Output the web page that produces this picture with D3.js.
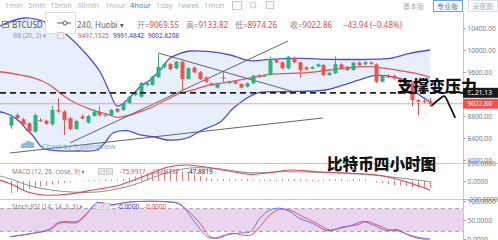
<!DOCTYPE html>
<html>
<head>
<meta charset="utf-8">
<script src="https://cdn.jsdelivr.net/npm/d3@7"></script>
<style>
body{margin:0;background:#fff;}
svg{display:block;font-family:"Noto Sans","Noto Sans CJK SC","DejaVu Sans",sans-serif;}
</style>
</head>
<body>
<svg id="chart" width="498" height="240"></svg>
<script>
// ---- candles (BTC 4h, Huobi) ----
const opens  = [8624,8818,8740,8667,8515,8725,8712,8649,8909,8882,8760,8564,8790,8680,8800,8873,8822,8818,8927,8909,9036,9182,9151,9364,9364,9504,9690,9745,9667,9787,9473,9678,9595,9496,9395,9315,9500,9400,9424,9382,9333,9395,9533,9520,9545,9818,9776,9667,9860,9776,9685,9660,9700,9727,9545,9576,9740,9696,9636,9769,9740,9776,9740,9424,9533,9533,9480,9420,9395,9091,9070,9069.55];
const highs  = [8830,8850,8770,8690,8845,8760,8735,8985,9125,8905,8785,8735,8830,8820,8925,8985,8840,8930,8945,9050,9165,9260,9420,9410,9530,9927,9770,9765,9800,9800,9690,9700,9615,9520,9410,9410,9600,9440,9440,9400,9410,9550,9560,9550,9880,9840,9790,9890,9880,9790,9700,9710,9760,9745,9600,9880,9760,9710,9780,9790,9800,9790,9760,9545,9560,9550,9500,9440,9410,9110,9100,9133.82];
const lows   = [8570,8730,8620,8480,8500,8690,8640,8620,8860,8455,8540,8550,8740,8660,8790,8800,8790,8800,8860,8890,9020,9160,9130,9340,9350,9490,9660,9630,9650,9273,9460,9580,9455,9400,9350,9300,9420,9380,9370,9300,9320,9380,9500,9505,9530,9760,9650,9650,9760,9496,9630,9650,9690,9530,9530,9560,9650,9620,9620,9715,9720,9730,9400,9410,9490,9460,9400,9360,8982,8818,9030,8974.26];
const closes = [8787,8758,8640,8515,8818,8712,8660,8909,8882,8727,8564,8709,8755,8800,8878,8818,8805,8909,8878,9036,9151,9242,9400,9390,9515,9696,9745,9649,9787,9473,9667,9595,9473,9424,9364,9395,9480,9424,9390,9315,9395,9533,9520,9533,9836,9776,9667,9878,9776,9636,9649,9690,9740,9545,9587,9740,9667,9636,9769,9727,9776,9750,9424,9533,9500,9480,9420,9380,9091,9060,9050,9022.86];

// ---- Bollinger bands as [candle index, price] ----
const bbUpper = [[-1.9,10436],[2.4,10582],[6.6,10473],[9.5,10273],[12.9,9909],[15.1,9605],[16.8,9218],[18,8982],[19.7,9091],[21.9,9333],[23.6,9455],[25.3,9636],[27,9855],[28.7,9940],[30.4,9982],[33.8,9969],[37.2,9909],[40.6,9805],[43.9,9831],[49,9849],[54.1,9831],[60.9,9831],[64.3,9849],[67.7,9940],[71.1,10000]];
const bbMid = [[-1.9,9605],[3.7,9496],[6.6,9364],[8.3,9218],[10,9091],[11.7,9000],[13.4,8927],[15.1,8867],[16.8,8818],[18,8776],[20.2,8818],[21.9,8878],[23.6,8945],[25.3,9036],[27,9127],[28.7,9218],[30.4,9260],[32.1,9315],[33.8,9364],[35.5,9395],[37.2,9424],[38.9,9455],[41.1,9504],[43.9,9558],[47.3,9576],[50.7,9595],[54.1,9636],[57.5,9678],[60.9,9696],[62.6,9678],[66,9624],[69.4,9558],[71.1,9504]];
const bbLower = [[-1.9,8878],[-0.2,8818],[1.5,8696],[2.7,8545],[3.6,8455],[5.4,8218],[7.8,8169],[11.7,8164],[14.6,8182],[15.9,8309],[17.3,8491],[19.7,8533],[21.9,8455],[24.4,8418],[26.5,8364],[29.9,8400],[32.1,8527],[35.5,8691],[37.8,8950],[41.6,9213],[46.1,9242],[53.4,9273],[56.5,9364],[59.9,9485],[61.6,9533],[64.5,9515],[67.2,9424],[68.9,9213],[71.1,9060]];
const bbValues = ["9497.1525","9991.4842","9002.8208"];

// ---- drawn trend lines [[idx,price],[idx,price]] ----
const trendLines = [
  [[25,9945],[48.4,9227]],
  [[10,8309],[47,10164]],
  [[-0.2,8127],[52.9,8764]]
];
const resistance = 9221.13;
const lastPrice = 9022.86;
const handCurve = [[71.4,8990],[72.6,9100],[73.5,9160],[74.4,8990],[75.3,8780]];

// ---- MACD ----
const macdHist = [-133,-122,-111,-89,-78,-61,-50,-39,-28,-19,-14,-9,-6,-3,-2,2,3,3,4,22,33,50,67,89,100,117,128,133,128,111,89,72,56,39,28,17,11,8,6,5,10,12,14,15,14,12,10,8,6,5,3,0,0,2,5,8,10,12,10,8,5,-10,-17,-22,-33,-44,-50,-56,-67,-72,-78,-78];
const macdLine = [[-1.9,11],[0,-33],[2.7,-119],[5.4,-155],[9.5,-148],[13.9,-100],[18.5,-44],[23.1,67],[26.5,152],[29.9,178],[33.3,152],[37.7,103],[40.6,74],[43.9,92],[47.3,122],[51.9,103],[57.5,85],[62.1,67],[66,11],[71.1,-100]];
const signalLine = [[-1.9,56],[0,22],[3.7,-63],[9.5,-119],[15.1,-119],[20.7,-44],[25.3,67],[29.9,141],[34.3,141],[40.6,92],[46.1,103],[51.9,97],[57.5,85],[63.1,56],[71.1,-8]];

// ---- Stoch RSI ----
const stochK = [[-0.2,6],[3.7,15],[6.6,26],[7.8,42],[9.5,46],[11.2,46],[12.9,68],[14.6,96],[16.3,90],[18,92],[20.7,98],[26.5,98],[28.7,92],[30.9,50],[33.3,6],[34.3,2],[36.3,10],[38.9,16],[40.6,19],[42.2,54],[43.9,76],[45.6,81],[47.3,72],[49,54],[51.2,41],[53.6,22],[55.8,28],[58,37],[59.7,46],[61.4,37],[63.8,22],[65.5,25],[67.7,8],[69.9,0],[71.1,0]];
const stochD = [[-0.2,6],[3.7,15],[6.6,24],[8.3,42],[11.2,43],[12.2,55],[13.4,76],[14.6,94],[15.6,95],[17.3,89],[18.5,94],[20.7,98],[26.5,98],[28.2,94],[29.9,76],[32.1,41],[33.8,6],[35.5,3],[37.2,15],[40.6,10],[42.2,32],[43.9,63],[45.6,78],[47.3,76],[49.5,59],[51.9,41],[54.1,24],[56.3,32],[58.7,37],[60.4,46],[62.1,37],[64.3,24],[65.5,22],[67.7,10],[69.9,2],[71.1,0]];

// ---- axis ticks / labels ----
const priceTicks = [10400,10000,9600,9200,8800,8400,8000];
const macdTicks = [200,0,-200];
const stochTicks = [100,50,0];
const intervals = ["1min","5min","15min","30min","1hour","4hour","1day","1week","1mon"];
const intervalX = [5,28,50,77,105,130,156,177,204];

const W = 498, H = 240, axisX = 463;
const upColor = "#2db37f", downColor = "#ef5350";
const axisFont = 6.6, legendFont = 6.4;

const svg = d3.select("#chart");
svg.append("rect").attr("width",W).attr("height",H).attr("fill","#fff");

const x = d3.scaleLinear().domain([0,71]).range([11,429.5]);
const yP = d3.scaleLinear().domain([8000,10000]).range([160,50]);
const yM = d3.scaleLinear().domain([-200,200]).range([199,163]);
const yS = d3.scaleLinear().domain([0,100]).range([239,201]);

const defs = svg.append("defs");
defs.append("clipPath").attr("id","cp").append("rect").attr("x",0).attr("y",14).attr("width",axisX).attr("height",149);
defs.append("clipPath").attr("id","cm").append("rect").attr("x",0).attr("y",163).attr("width",axisX).attr("height",36);
defs.append("clipPath").attr("id","cs").append("rect").attr("x",0).attr("y",199).attr("width",axisX).attr("height",41);

const curve = d3.curveCatmullRom.alpha(0.5);

// ===== price pane =====
const pp = svg.append("g").attr("clip-path","url(#cp)");
const bbLine = d3.line().x(d => x(d[0])).y(d => yP(d[1])).curve(curve);

// band fill
const fillPath = bbLine(bbUpper) + bbLine(bbLower.slice().reverse()).replace(/^M/,"L") + "Z";
pp.append("path").attr("d",fillPath).attr("fill","#e6effb");

pp.append("path").attr("d",bbLine(bbUpper)).attr("fill","none").attr("stroke","#4b4fd8").attr("stroke-width",1.3);
pp.append("path").attr("d",bbLine(bbLower)).attr("fill","none").attr("stroke","#4b4fd8").attr("stroke-width",1.3);
pp.append("path").attr("d",bbLine(bbMid)).attr("fill","none").attr("stroke","#e2555a").attr("stroke-width",1.3);

// trend lines
pp.selectAll(".trend").data(trendLines).enter().append("line")
  .attr("x1",d => x(d[0][0])).attr("y1",d => yP(d[0][1]))
  .attr("x2",d => x(d[1][0])).attr("y2",d => yP(d[1][1]))
  .attr("stroke","#555").attr("stroke-width",0.9);

// current price line
pp.append("line").attr("x1",0).attr("x2",axisX)
  .attr("y1",yP(lastPrice)).attr("y2",yP(lastPrice))
  .attr("stroke","#f08a8a").attr("stroke-width",0.8);

// candles
const candles = opens.map((o,i) => ({i, o, h: highs[i], l: lows[i], c: closes[i]}));
const cg = pp.selectAll(".candle").data(candles).enter().append("g");
cg.append("line")
  .attr("x1",d => Math.round(x(d.i))+0.5).attr("x2",d => Math.round(x(d.i))+0.5)
  .attr("y1",d => yP(d.h)).attr("y2",d => yP(d.l))
  .attr("stroke",d => d.c >= d.o ? upColor : downColor).attr("stroke-width",1);
cg.append("rect")
  .attr("x",d => Math.round(x(d.i))-1.5).attr("width",4)
  .attr("y",d => yP(Math.max(d.o,d.c)))
  .attr("height",d => Math.max(1,Math.abs(yP(d.o)-yP(d.c))))
  .attr("fill",d => d.c >= d.o ? upColor : downColor);

// dashed resistance line
pp.append("line").attr("x1",0).attr("x2",axisX)
  .attr("y1",yP(resistance)).attr("y2",yP(resistance))
  .attr("stroke","#222").attr("stroke-width",1.6).attr("stroke-dasharray","6,4");

// watermark
const wm = svg.append("g");
wm.append("path").attr("d","M21 148 q-1 -5 4 -5 q2 -4 6 -1 q4 0 3 4 q2 2 -1 2 z").attr("fill","#8dbbe6");
wm.append("text").attr("x",42).attr("y",149).attr("font-size",7.4).attr("fill","#7fb0e0").text("Chart by TradingView");

// ===== separators =====
svg.append("line").attr("x1",0).attr("x2",W).attr("y1",163.5).attr("y2",163.5).attr("stroke","#c8c8c8");
svg.append("line").attr("x1",0).attr("x2",W).attr("y1",199.5).attr("y2",199.5).attr("stroke","#c8c8c8");

// ===== MACD pane =====
const mp = svg.append("g").attr("clip-path","url(#cm)");
mp.selectAll(".hist").data(macdHist).enter().append("line")
  .attr("x1",(d,i) => Math.round(x(i))+0.5).attr("x2",(d,i) => Math.round(x(i))+0.5)
  .attr("y1",yM(0)).attr("y2",d => yM(d) + (Math.abs(yM(d)-yM(0)) < 1 ? -1 : 0))
  .attr("stroke","#ef7a7d").attr("stroke-width",1);
const mLine = d3.line().x(d => x(d[0])).y(d => yM(d[1])).curve(curve);
mp.append("path").attr("d",mLine(signalLine)).attr("fill","none").attr("stroke","#8a9095").attr("stroke-width",1);
mp.append("path").attr("d",mLine(macdLine)).attr("fill","none").attr("stroke","#e2454f").attr("stroke-width",1.1);

// ===== Stoch RSI pane =====
const sp = svg.append("g").attr("clip-path","url(#cs)");
sp.append("rect").attr("x",0).attr("width",axisX).attr("y",yS(80)).attr("height",yS(20)-yS(80)).attr("fill","#ead5ee");
[80,20].forEach(v => sp.append("line").attr("x1",0).attr("x2",axisX).attr("y1",yS(v)).attr("y2",yS(v))
  .attr("stroke","#9b8aa0").attr("stroke-width",0.8).attr("stroke-dasharray","4,3"));
const sLine = d3.line().x(d => x(d[0])).y(d => yS(d[1])).curve(curve);
sp.append("path").attr("d",sLine(stochD)).attr("fill","none").attr("stroke","#e8566a").attr("stroke-width",1);
sp.append("path").attr("d",sLine(stochK)).attr("fill","none").attr("stroke","#6b6ff0").attr("stroke-width",1);

// ===== right axes =====
svg.append("line").attr("x1",axisX+0.5).attr("x2",axisX+0.5).attr("y1",12).attr("y2",H).attr("stroke","#c8c8c8");
function styleAxis(g){
  g.select(".domain").remove();
  g.selectAll("line").attr("stroke","#aaa");
  g.selectAll("text").attr("fill","#7a7e88").attr("font-size",axisFont).attr("x",4.5)
    .attr("font-family","'Noto Sans','DejaVu Sans',sans-serif");
}
svg.append("g").attr("transform",`translate(${axisX},0)`)
  .call(d3.axisRight(yP).tickValues(priceTicks).tickSize(3).tickFormat(d => d.toFixed(2))).call(styleAxis);
svg.append("g").attr("transform",`translate(${axisX},0)`)
  .call(d3.axisRight(yM).tickValues(macdTicks).tickSize(3).tickFormat(d => d.toFixed(4))).call(styleAxis);
svg.append("g").attr("transform",`translate(${axisX},0)`)
  .call(d3.axisRight(yS).tickValues(stochTicks).tickSize(3).tickFormat(d => d.toFixed(4))).call(styleAxis);

// price labels on axis
[[resistance,"#1a1a1a"],[lastPrice,"#ef5350"]].forEach(([v,col]) => {
  svg.append("rect").attr("x",axisX).attr("y",yP(v)-5).attr("width",W-axisX).attr("height",10).attr("fill",col);
  svg.append("text").attr("x",axisX+4.5).attr("y",yP(v)+2.5).attr("font-size",axisFont).attr("fill","#fff").text(v.toFixed(2));
});

// ===== toolbar =====
const tb = svg.append("g").attr("font-size",7.4);
tb.selectAll("text").data(intervals).enter().append("text")
  .attr("x",(d,i) => intervalX[i]).attr("y",8)
  .attr("fill",d => d === "4hour" ? "#3b7ddd" : "#b3b8c2").text(d => d);
tb.append("rect").attr("x",232.5).attr("y",1.5).attr("width",9).attr("height",8).attr("fill","none").attr("stroke","#c4c8d0");
tb.append("circle").attr("cx",253).attr("cy",5).attr("r",3).attr("fill","none").attr("stroke","#c4c8d0");
tb.append("rect").attr("x",266.5).attr("y",1.5).attr("width",7).attr("height",7).attr("fill","none").attr("stroke","#c4c8d0");
tb.append("rect").attr("x",433.5).attr("y",0.5).attr("width",29).attr("height",11).attr("fill","#fff").attr("stroke","#6fa0e6");
tb.append("rect").attr("x",468.5).attr("y",0.5).attr("width",29).attr("height",11).attr("fill","#fff").attr("stroke","#dde0e6");
[["基本版",403,"#a9b0bb"],["专业版",437,"#3b7ddd"],["深度图",472,"#a9b0bb"]].forEach(([t,px,col]) =>
  tb.append("text").attr("x",px).attr("y",8.5).attr("font-size",7)
    .attr("font-family","'Noto Sans CJK SC',sans-serif").attr("fill",col).text(t));

// ===== header =====
const hd = svg.append("g").attr("font-size",8);
hd.append("rect").attr("x",2.5).attr("y",21.5).attr("width",6).attr("height",6).attr("fill","none").attr("stroke","#888");
hd.append("line").attr("x1",4).attr("x2",7.5).attr("y1",24.5).attr("y2",24.5).attr("stroke","#888");
hd.append("text").attr("x",12).attr("y",28).attr("fill","#555").text("BTCUSD");
hd.append("text").attr("x",77).attr("y",28).attr("fill","#666").text("240, Huobi ▾");
const hdItems = [["开=","9069.55",137],["高=","9133.82",186],["低=","8974.26",235],["收=","9022.86",290]];
hdItems.forEach(([k,v,px]) => {
  const t = hd.append("text").attr("x",px).attr("y",28);
  t.append("tspan").attr("fill","#888").attr("font-family","'Noto Sans CJK SC',sans-serif").text(k);
  t.append("tspan").attr("fill","#e0504f").text(v);
});
hd.append("text").attr("x",343).attr("y",28).attr("fill","#e0504f").text("−43.94 (−0.48%)");

// tooltip box over symbol
hd.append("rect").attr("x",45.5).attr("y",12.5).attr("width",30).attr("height",21).attr("fill","#fff").attr("stroke","#ddd");
hd.append("line").attr("x1",57).attr("x2",71).attr("y1",23).attr("y2",23).attr("stroke","#666");
hd.append("circle").attr("cx",65).attr("cy",23).attr("r",2).attr("fill","#fff").attr("stroke","#666");

// BB legend row
const bl = svg.append("g").attr("font-size",legendFont);
bl.append("text").attr("x",13).attr("y",38).attr("fill","#999").text("BB (20, 2) ▾");
bl.append("rect").attr("x",57.5).attr("y",32.5).attr("width",6).attr("height",6).attr("fill","#eee").attr("stroke","#ccc");
[[bbValues[0],78,"#e0504f"],[bbValues[1],113,"#3434c8"],[bbValues[2],148,"#3434c8"]].forEach(([v,px,col]) =>
  bl.append("text").attr("x",px).attr("y",38).attr("fill",col).text(v));

// MACD legend
const ml = svg.append("g").attr("font-size",legendFont);
ml.append("text").attr("x",12).attr("y",174).attr("fill","#888").text("MACD (12, 26, close, 9) ▾");
[98.5,106.5].forEach(px => ml.append("rect").attr("x",px).attr("y",168.5).attr("width",6).attr("height",6).attr("fill","#e4e4e4").attr("stroke","#ccc"));
[["-75.9917",120,"#e0504f"],["-123.8737",150,"#e0504f"],["-47.8819",187,"#222"]].forEach(([v,px,col]) =>
  ml.append("text").attr("x",px).attr("y",174).attr("fill",col).text(v));

// Stoch legend
const sl = svg.append("g").attr("font-size",legendFont);
sl.append("text").attr("x",12).attr("y",209).attr("fill","#888").text("Stoch RSI (14, 14, 3, 3) ▾");
[95.5,103.5].forEach(px => sl.append("rect").attr("x",px).attr("y",203.5).attr("width",6).attr("height",6).attr("fill","#e4e4e4").attr("stroke","#ccc"));
[["-0.0000",117,"#3434c8"],["-0.0000",144,"#e0504f"]].forEach(([v,px,col]) =>
  sl.append("text").attr("x",px).attr("y",209).attr("fill",col).text(v));

// ===== annotations =====
svg.append("path")
  .attr("d",d3.line().x(d => x(d[0])).y(d => yP(d[1])).curve(curve)(handCurve))
  .attr("fill","none").attr("stroke","#111").attr("stroke-width",1.8).attr("stroke-linecap","round");
svg.append("text").attr("x",397).attr("y",92).attr("font-size",16).attr("font-weight",900)
  .attr("font-family","'Noto Sans CJK SC',sans-serif").attr("fill","#111").text("支撑变压力");
svg.append("text").attr("x",327).attr("y",170).attr("font-size",15.6).attr("font-weight",900)
  .attr("font-family","'Noto Sans CJK SC',sans-serif").attr("fill","#111").text("比特币四小时图");
</script>
</body>
</html>
